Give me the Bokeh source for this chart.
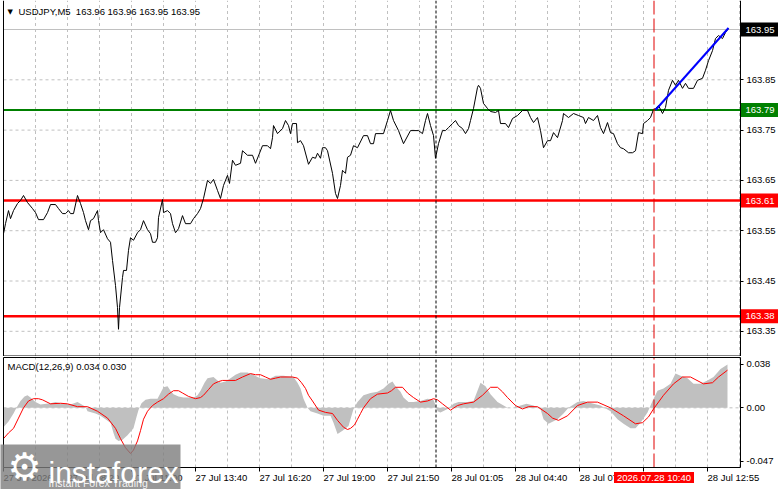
from bokeh.plotting import figure
from bokeh.layouts import column
from bokeh.models import Range1d, FixedTicker, Span, Label, LinearAxis
from bokeh.core.properties import value
from bokeh.embed import file_html
from bokeh.resources import INLINE

# ---------------- data ----------------
symbol_title = "USDJPY,M5\u00a0\u00a0163.96 163.96 163.95 163.95"
macd_title = "MACD(12,26,9) 0.034 0.030"

price_bar = [0, 1, 2.5, 3.5, 5, 7, 8.5, 10, 12, 14.5, 16, 17.5, 20, 22, 23.5, 26, 27.5, 29.5, 31, 32.5,
             33.5, 35, 37, 38.5, 40, 41, 42.5, 43.5, 45, 47, 47.5, 48.5, 50, 52, 53.5, 54.5, 56, 57, 57.5, 58,
             59.5, 60, 61.5, 62.5, 63.5, 65, 67, 68.5, 70, 72, 73.5, 74.5, 76, 77, 77.5, 79.5, 80, 82, 83.5, 84.5,
             86, 87.5, 89.5, 91, 93.5, 95, 97, 98.5, 100, 102, 103.5, 105, 107, 108.5, 110, 112, 113, 114.5, 116, 118.5,
             119.5, 122, 124.5, 126, 129.5, 132, 133.5, 134.5, 135, 137, 139.5, 141, 142.5, 143.5, 144.5, 146.5, 147, 148.5, 150, 152.5,
             154.5, 156, 157, 158.5, 159.5, 161, 162, 164.5, 166, 167, 168.5, 169.5, 171, 172, 173.5, 175, 177, 180, 182, 183.5,
             185, 186, 190, 192, 193.5, 195, 197.5, 200, 203.5, 207.5, 209.5, 211, 212, 213.5, 215, 216, 217.5, 219.5, 221, 222.5,
             224.5, 226, 227.5, 229.5, 231, 232.5, 233.5, 235, 237, 237.5, 238.5, 240, 242, 243.5, 246, 247.5, 248.5, 251, 252.5, 254.5,
             257, 259.5, 262, 263.5, 265, 267, 268.5, 270, 272, 273.5, 275, 277, 279.5, 280, 282.5, 285, 287.5, 290, 291, 292.5,
             295, 297, 298.5, 300, 302, 303.5, 305, 307, 308.5, 310, 312.5, 314.5, 316, 317.5, 319.5, 320, 322, 323.5, 325, 326,
             327.5, 329.5, 331, 332.5, 334.5, 336, 337.5, 339.5, 341, 342.5, 345, 347, 349.5, 351, 352.5, 354.5, 356, 357.5, 359.5, 361,
             362.5]
price_close = [163.544, 163.564, 163.590, 163.574, 163.590, 163.604, 163.610, 163.620, 163.606, 163.594, 163.586, 163.572, 163.572, 163.586, 163.602, 163.602, 163.594, 163.584, 163.584, 163.590,
               163.584, 163.584, 163.620, 163.604, 163.586, 163.570, 163.552, 163.570, 163.574, 163.590, 163.570, 163.546, 163.552, 163.534, 163.527, 163.491, 163.441, 163.397, 163.354, 163.397,
               163.457, 163.471, 163.471, 163.511, 163.536, 163.531, 163.546, 163.552, 163.570, 163.552, 163.544, 163.527, 163.527, 163.536, 163.576, 163.612, 163.586, 163.590, 163.584, 163.564,
               163.546, 163.554, 163.580, 163.564, 163.564, 163.574, 163.584, 163.594, 163.614, 163.650, 163.644, 163.652, 163.630, 163.614, 163.640, 163.660, 163.644, 163.690, 163.680, 163.684,
               163.709, 163.700, 163.700, 163.684, 163.719, 163.719, 163.713, 163.735, 163.759, 163.743, 163.753, 163.769, 163.759, 163.743, 163.763, 163.763, 163.725, 163.729, 163.719, 163.682,
               163.696, 163.694, 163.704, 163.694, 163.715, 163.715, 163.709, 163.664, 163.624, 163.614, 163.640, 163.670, 163.664, 163.696, 163.700, 163.719, 163.715, 163.739, 163.739, 163.723,
               163.723, 163.743, 163.743, 163.769, 163.789, 163.769, 163.749, 163.723, 163.749, 163.749, 163.743, 163.769, 163.783, 163.759, 163.739, 163.694, 163.723, 163.749, 163.749, 163.755,
               163.763, 163.769, 163.759, 163.753, 163.743, 163.753, 163.769, 163.793, 163.835, 163.839, 163.833, 163.803, 163.793, 163.787, 163.785, 163.789, 163.763, 163.763, 163.755, 163.773,
               163.779, 163.789, 163.789, 163.775, 163.765, 163.775, 163.749, 163.715, 163.729, 163.729, 163.745, 163.735, 163.769, 163.783, 163.775, 163.783, 163.779, 163.775, 163.763, 163.775,
               163.769, 163.779, 163.755, 163.743, 163.765, 163.745, 163.743, 163.723, 163.715, 163.713, 163.705, 163.705, 163.709, 163.745, 163.743, 163.763, 163.769, 163.775, 163.791, 163.793,
               163.799, 163.783, 163.795, 163.829, 163.849, 163.839, 163.849, 163.833, 163.843, 163.833, 163.833, 163.849, 163.853, 163.869, 163.888, 163.908, 163.932, 163.938, 163.932, 163.944,
               163.952]

hist_bar = [0, 2.5, 5, 6.5, 8.5, 10.5, 12, 13.5, 16, 18.5, 23.5, 26, 28.5, 33.5, 37, 41, 42, 46, 48.5, 51,
            53.5, 55, 56, 57.5, 59.5, 62, 65, 66.5, 67.5, 69, 71, 73.5, 77, 78.5, 80, 82, 83.5, 85, 87.5, 90,
            95, 97, 98.5, 100.5, 102, 105, 107, 108.5, 111, 113.5, 116, 118.5, 122, 125, 127, 128.5, 132.5, 136, 140, 145,
            147, 148.5, 150, 152, 153.5, 157, 160, 163.5, 165, 167, 169.5, 172.5, 175, 177, 180, 183.5, 187, 190, 192.5, 194.5,
            196, 198.5, 200, 202.5, 205, 208.5, 212, 215, 216.5, 217, 218.5, 222, 225, 227.5, 232, 235, 237, 238.5, 241, 243.5,
            247, 252, 255, 258.5, 261.5, 265, 268.5, 270, 272.5, 277, 280, 282.5, 287, 290, 295, 298.5, 303.5, 307, 310, 313.5,
            316, 318.5, 322, 324.5, 327, 330, 333.5, 336, 338.5, 342, 345, 348.5, 352, 355, 358.5, 362]
hist_val = [-0.017, -0.012, -0.005, 0.0, 0.006, 0.010, 0.011, 0.009, 0.005, 0.003, 0.004, 0.005, 0.004, 0.003, 0.005, 0.001, -0.003, -0.005, -0.007, -0.010,
            -0.013, -0.022, -0.027, -0.029, -0.028, -0.024, -0.018, -0.008, -0.002, 0.004, 0.007, 0.008, 0.008, 0.013, 0.018, 0.019, 0.015, 0.012, 0.010, 0.009,
            0.009, 0.011, 0.015, 0.022, 0.026, 0.027, 0.024, 0.022, 0.023, 0.026, 0.029, 0.031, 0.031, 0.029, 0.027, 0.026, 0.025, 0.028, 0.028, 0.027,
            0.022, 0.017, 0.008, 0.0, -0.003, -0.005, -0.007, -0.007, -0.013, -0.023, -0.020, -0.016, -0.001, 0.005, 0.011, 0.013, 0.014, 0.017, 0.021, 0.023,
            0.019, 0.014, 0.009, 0.005, 0.005, 0.006, 0.008, 0.007, 0.0, -0.003, -0.004, -0.001, 0.0035, 0.005, 0.005, 0.006, 0.015, 0.022, 0.019, 0.012,
            0.005, 0.0, 0.0, 0.002, 0.0035, 0.002, -0.001, -0.010, -0.014, -0.010, -0.005, 0.0, 0.005, 0.006, 0.0035, 0.002, -0.003, -0.010, -0.014, -0.018,
            -0.018, -0.013, -0.004, 0.006, 0.015, 0.017, 0.021, 0.030, 0.028, 0.026, 0.021, 0.021, 0.024, 0.027, 0.034, 0.038]

signal_bar = [0, 2.5, 5, 7.5, 10, 12.5, 15, 17.5, 19.5, 23.5, 28.5, 32, 37, 42, 47, 52, 56, 58.5, 61, 63.5,
              65, 67, 68.5, 70, 72, 74.5, 77, 80, 82.5, 85, 87.5, 89.5, 92.5, 96, 98.5, 100, 102.5, 105, 107.5, 109.5,
              116, 119.5, 123.5, 126, 128.5, 131, 133.5, 136, 138.5, 144.5, 147, 149, 151, 152.5, 154.5, 157.5, 161, 164.5, 167, 170,
              172, 173.5, 175.5, 177, 178.5, 180, 183.5, 187, 192, 194, 196, 199.5, 202, 205, 208.5, 212, 215, 217, 219.5, 223.5,
              227, 230, 235, 239.5, 243.5, 247, 249.5, 252, 256, 259.5, 262.5, 267, 272, 274.5, 277.5, 282, 287, 292, 297, 303.5,
              310, 316, 319.5, 322.5, 325, 330, 335, 339.5, 343.5, 350, 354.5, 357.5, 362]
signal_val = [-0.027, -0.022, -0.018, -0.009, 0.0, 0.006, 0.008, 0.008, 0.007, 0.0035, 0.004, 0.0035, 0.001, 0.001, -0.003, -0.009, -0.018, -0.027, -0.035, -0.040,
              -0.037, -0.029, -0.020, -0.010, -0.003, 0.002, 0.005, 0.008, 0.012, 0.015, 0.015, 0.013, 0.010, 0.008, 0.009, 0.011, 0.016, 0.021, 0.023, 0.024,
              0.024, 0.027, 0.030, 0.029, 0.029, 0.027, 0.025, 0.026, 0.027, 0.027, 0.026, 0.022, 0.017, 0.011, 0.006, -0.002, -0.004, -0.005, -0.011, -0.017,
              -0.019, -0.018, -0.015, -0.010, -0.005, 0.0, 0.008, 0.012, 0.013, 0.015, 0.018, 0.018, 0.013, 0.009, 0.005, 0.006, 0.008, 0.007, 0.0035, -0.002,
              0.002, 0.0035, 0.005, 0.011, 0.018, 0.018, 0.014, 0.009, 0.002, -0.001, 0.001, 0.001, -0.005, -0.009, -0.011, -0.007, 0.002, 0.005, 0.005, 0.0,
              -0.007, -0.014, -0.013, -0.008, -0.001, 0.011, 0.021, 0.027, 0.027, 0.021, 0.022, 0.027, 0.033]

trend_bar = [326, 362.5]
trend_price = [163.790, 163.953]

bid_price = 163.95
resistance_level = 163.79
support_levels = [163.61, 163.38]

price_ticks = [163.35, 163.45, 163.55, 163.65, 163.75, 163.85]
price_grid = [163.35, 163.45, 163.55, 163.65, 163.75, 163.85, 163.95]
macd_ticks = [-0.047, 0.0, 0.038]
macd_tick_labels = ["-0.047", "0.00", "0.038"]

time_tick_bars = [0, 32, 64, 96, 128, 160, 192, 224, 256, 288, 352]
time_tick_labels = ["27 Jul 2026", "27 Jul 08:20", "27 Jul 11:00", "27 Jul 13:40", "27 Jul 16:20",
                    "27 Jul 19:00", "27 Jul 21:50", "28 Jul 01:05", "28 Jul 04:40", "28 Jul 07:20",
                    "28 Jul 12:55"]
time_mark_bars = [0, 32, 64, 96, 128, 160, 192, 224, 256, 288, 320, 352]
grid_bars = [16, 32, 48, 64, 80, 96, 112, 128, 144, 160, 176, 192, 208, 224, 240, 256, 272, 288,
             304, 320, 336, 352, 368]

session_bar = 216.25
marker_bar = 325.25
marker_label = "2026.07.28 10:40"

# ---------------- layout / style ----------------
FONT = "Liberation Sans"
FS = "9.5px"
W = 781
MAIN_H, SUB_H = 356, 133            # canvas heights of the two stacked plots
PX_PER_BAR = 2.0                    # 5-minute bars are 2 px apart
X_START, X_END = 0, 368.5           # first bar / right edge of the price area
PX_PRICE = 503.0                    # px per 1.00 of price
PX_MACD = 1141.1                    # px per 1.00 of MACD
Y_TOP = 163.95 + 29 / PX_PRICE
Y_BOT = Y_TOP - MAIN_H / PX_PRICE
Y_EDGE = Y_TOP - 355.5 / PX_PRICE   # bottom border of the price pane
M1 = 0.0441
M0 = -0.0523
M_TOP = M1 + 1 / PX_MACD
M_BOT = M1 - 132 / PX_MACD
GRID = "#c0c0c0"


def bpx(x):            # page x (px) -> bar coordinate
    return (x - 3) / PX_PER_BAR


def mpy(y):            # page y (px) -> MACD coordinate
    return M1 - (y - 357) / PX_MACD


xr = Range1d(bpx(0), bpx(W))

common = dict(frame_width=W, min_border_left=0, min_border_right=0, min_border_top=0,
              min_border_bottom=0, x_range=xr, x_axis_location=None, y_axis_location=None,
              output_backend="svg", toolbar_location=None, tools="", outline_line_color=None,
              background_fill_color="white", border_fill_color="white")

# ================= price pane =================
p1 = figure(frame_height=MAIN_H, y_range=Range1d(Y_BOT, Y_TOP), **common)
p1.xgrid.visible = False
p1.ygrid.visible = False

dash = dict(line_color=GRID, line_width=1, line_dash="3 3")
p1.segment(x0=grid_bars, y0=Y_EDGE, x1=grid_bars, y1=Y_TOP, **dash)
p1.segment(x0=X_START, y0=price_grid, x1=X_END, y1=price_grid, **dash)

p1.segment(x0=X_START, y0=bid_price, x1=X_END, y1=bid_price, line_color=GRID, line_width=1)
p1.segment(x0=X_START, y0=resistance_level, x1=X_END, y1=resistance_level,
           line_color="#008000", line_width=2)
p1.segment(x0=X_START, y0=support_levels, x1=X_END, y1=support_levels,
           line_color="#ff0000", line_width=2.5)

p1.line(price_bar, price_close, line_color="black", line_width=1)
p1.line(trend_bar, trend_price, line_color="#0000ff", line_width=2)

p1.add_layout(Span(location=session_bar, dimension="height", line_color="black",
                   line_width=1, line_dash="3 2"))
p1.add_layout(Span(location=marker_bar, dimension="height", line_color="#e00000",
                   line_width=1, line_dash="14 4"))

p1.segment(x0=X_START, y0=Y_BOT, x1=X_START, y1=Y_TOP, line_color="black", line_width=1)
p1.segment(x0=X_START, y0=Y_EDGE, x1=X_END, y1=Y_EDGE, line_color="black", line_width=1)

ya = LinearAxis(fixed_location=X_END, ticker=FixedTicker(ticks=price_ticks), bounds=(Y_BOT, Y_TOP))
ya.axis_line_color = "black"
ya.major_tick_line_color = "black"
ya.major_tick_out = 3
ya.major_tick_in = 0
ya.minor_tick_line_color = None
ya.major_label_standoff = 3
ya.major_label_text_font = FONT
ya.major_label_text_font_size = FS
ya.major_label_text_color = "black"
p1.add_layout(ya, "right")

tag_prices = [bid_price, resistance_level] + support_levels
tag_colors = ["black", "#008000", "#ff0000", "#ff0000"]
p1.rect(x=X_END + 19 / PX_PER_BAR, y=tag_prices, width=37, height=14, width_units="screen",
        height_units="screen", fill_color=tag_colors, line_color=None)
p1.text(x=X_END + 5 / PX_PER_BAR, y=tag_prices, text=["%.2f" % v for v in tag_prices],
        text_font=value(FONT), text_font_size=value(FS), text_color="white",
        text_align="left", text_baseline="middle")

p1.add_layout(Label(x=7, y=MAIN_H - 11, x_units="screen", y_units="screen", text="\u25bc",
                    text_font="DejaVu Sans", text_font_size="7px", text_color="black",
                    text_baseline="middle"))
p1.add_layout(Label(x=18, y=MAIN_H - 11, x_units="screen", y_units="screen", text=symbol_title,
                    text_font=FONT, text_font_size=FS, text_color="black", text_baseline="middle"))

# ================= MACD pane =================
p2 = figure(frame_height=SUB_H, y_range=Range1d(M_BOT, M_TOP), **common)
p2.xgrid.visible = False
p2.ygrid.visible = False

p2.segment(x0=grid_bars, y0=M0, x1=grid_bars, y1=M1, **dash)
p2.segment(x0=X_START, y0=0, x1=X_END, y1=0, **dash)

p2.varea(x=hist_bar, y1=0, y2=hist_val, fill_color="#c0c0c0")
p2.line(signal_bar, signal_val, line_color="#ff0000", line_width=1)

p2.segment(x0=session_bar, y0=M0, x1=session_bar, y1=M1, line_color="black", line_width=1,
           line_dash="3 2")
p2.segment(x0=marker_bar, y0=M0, x1=marker_bar, y1=M1, line_color="#e00000", line_width=1,
           line_dash="14 4")

p2.segment(x0=X_START, y0=M0, x1=X_START, y1=M1, line_color="black", line_width=1)
p2.segment(x0=X_START, y0=M1, x1=X_END, y1=M1, line_color="black", line_width=1)

ma = LinearAxis(fixed_location=X_END, ticker=FixedTicker(ticks=macd_ticks), bounds=(M0, M1),
                major_label_overrides=dict(zip(macd_ticks, macd_tick_labels)))
ma.axis_line_color = "black"
ma.major_tick_line_color = "black"
ma.major_tick_out = 3
ma.major_tick_in = 0
ma.minor_tick_line_color = None
ma.major_label_standoff = 3
ma.major_label_text_font = FONT
ma.major_label_text_font_size = FS
ma.major_label_text_color = "black"
p2.add_layout(ma, "right")

ta = LinearAxis(fixed_location=M0, ticker=FixedTicker(ticks=time_mark_bars), bounds=(X_START, X_END),
                major_label_overrides={b: "" for b in time_mark_bars})
ta.axis_line_color = "black"
ta.major_tick_line_color = "black"
ta.major_tick_out = 4
ta.major_tick_in = 0
ta.minor_tick_line_color = None
p2.add_layout(ta, "below")

p2.text(x=time_tick_bars, y=mpy(477), text=time_tick_labels, text_font=value(FONT),
        text_font_size=value(FS), text_color="black", text_align="left", text_baseline="middle")

p2.rect(x=marker_bar, y=mpy(477), width=80, height=11, width_units="screen", height_units="screen",
        fill_color="#ff0000", line_color=None)
p2.text(x=marker_bar, y=mpy(477), text=[marker_label], text_font=value(FONT),
        text_font_size=value(FS), text_color="white", text_align="center", text_baseline="middle")

p2.add_layout(Label(x=7, y=SUB_H - 10, x_units="screen", y_units="screen", text=macd_title,
                    text_font=FONT, text_font_size=FS, text_color="black", text_baseline="middle"))

# watermark (drawn above everything)
p2.quad(left=bpx(0), right=bpx(180), top=mpy(444), bottom=mpy(495), fill_color="#7d7d7d",
        fill_alpha=0.8, line_color=None, level="overlay")
p2.text(x=bpx(24), y=mpy(466), text=["\u2699"], text_font=value("DejaVu Sans"),
        text_font_size=value("38px"), text_color="white", text_align="center",
        text_baseline="middle", level="overlay")
p2.text(x=bpx(48), y=mpy(472), text=["instaforex"], text_font=value(FONT),
        text_font_size=value("30px"), text_color="white", text_align="left",
        text_baseline="alphabetic", level="overlay")
p2.text(x=bpx(48), y=mpy(482.5), text=["Instant Forex Trading"], text_font=value(FONT),
        text_font_size=value("10.5px"), text_color="white", text_alpha=0.9, text_align="left",
        text_baseline="alphabetic", level="overlay")

page = column(p1, p2, spacing=0)
open("out.html", "w").write(file_html(page, INLINE))
